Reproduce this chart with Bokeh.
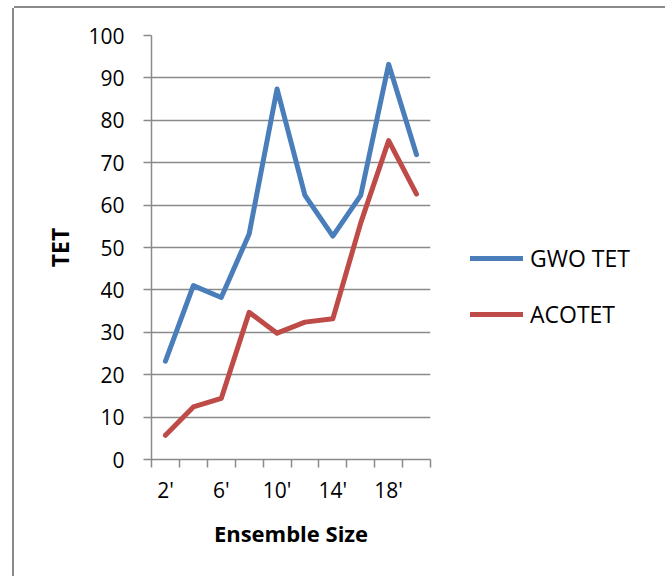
from bokeh.plotting import figure
from bokeh.models import FixedTicker, Range1d, Legend, LegendItem
from bokeh.embed import file_html
from bokeh.resources import INLINE
import numpy as np

# Ensemble sizes (categories) and TET for the two schedulers
sizes = ["2'", "4'", "6'", "8'", "10'", "12'", "14'", "16'", "18'", "20'"]
gwo_tet = [23.2, 41.0, 38.2, 53.2, 87.4, 62.3, 52.7, 62.3, 93.2, 71.9]
aco_tet = [5.7, 12.4, 14.4, 34.7, 29.8, 32.4, 33.2, 55.8, 75.2, 62.6]
y_ticks = list(range(0, 101, 10))

FONT = "Open Sans"
GRID = "#8a8a8a"
BLUE = "#4a7ebb"
RED = "#be4b48"

n = len(sizes)
xs = np.arange(n) + 0.5

# chart-area frame (left, right and top edges) drawn as CSS shadows
frame_css = "-2px 0 0 #8a8a8a, 2px 0 0 #8a8a8a, 0 -2px 0 #8a8a8a"
p = figure(frame_width=279, frame_height=424,
           output_backend="svg", toolbar_location=None,
           x_range=Range1d(0, n), y_range=Range1d(0, 100),
           min_border_left=137, min_border_right=224,
           min_border_top=27, min_border_bottom=117,
           margin=(8, 0, 0, 14),
           styles={"box-shadow": frame_css})
p.outline_line_color = None
p.background_fill_color = "white"
p.border_fill_color = "white"

r1 = p.line(xs, gwo_tet, line_color=BLUE, line_width=5,
            line_join="round", line_cap="round")
r2 = p.line(xs, aco_tet, line_color=RED, line_width=5,
            line_join="round", line_cap="round")

# x axis: tick marks on category boundaries, labels on every other category
xa = p.xaxis[0]
label_pos = [float(x) for x in xs[::2]]
xa.ticker = FixedTicker(ticks=label_pos, minor_ticks=list(range(n + 1)))
xa.major_label_overrides = {x: s for x, s in zip(label_pos, sizes[::2])}
xa.major_tick_line_color = None
xa.minor_tick_line_color = GRID
xa.minor_tick_line_width = 1.5
xa.minor_tick_out = 8
xa.minor_tick_in = 0
xa.axis_line_color = GRID
xa.axis_line_width = 1.5
xa.major_label_standoff = 8
xa.major_label_text_font = FONT
xa.major_label_text_font_size = "21px"
xa.major_label_text_color = "black"
xa.axis_label = "Ensemble Size"
xa.axis_label_text_font = FONT
xa.axis_label_text_font_size = "22px"
xa.axis_label_text_font_style = "bold"
xa.axis_label_text_color = "black"
xa.axis_label_standoff = 11

ya = p.yaxis[0]
ya.ticker = FixedTicker(ticks=y_ticks)
ya.minor_tick_line_color = None
ya.major_tick_line_color = GRID
ya.major_tick_line_width = 1.5
ya.major_tick_out = 8
ya.major_tick_in = 0
ya.axis_line_color = GRID
ya.axis_line_width = 1.5
ya.major_label_standoff = 19
ya.major_label_text_font = FONT
ya.major_label_text_font_size = "21px"
ya.major_label_text_color = "black"
ya.axis_label = "TET"
ya.axis_label_text_font = FONT
ya.axis_label_text_font_size = "23px"
ya.axis_label_text_font_style = "bold"
ya.axis_label_text_color = "black"
ya.axis_label_standoff = 9

p.xgrid.grid_line_color = None
p.ygrid.grid_line_color = GRID
p.ygrid.grid_line_width = 1.5

legend = Legend(items=[LegendItem(label="GWO TET", renderers=[r1]),
                       LegendItem(label="ACOTET", renderers=[r2])],
                location=(40, 129), padding=0, margin=0,
                glyph_width=53, glyph_height=24, label_height=24,
                spacing=24, label_standoff=7,
                border_line_color=None, background_fill_alpha=0,
                label_text_font=FONT, label_text_font_size="23px",
                label_text_color="black")
p.add_layout(legend, "right")

open("out.html", "w").write(file_html(p, INLINE))
